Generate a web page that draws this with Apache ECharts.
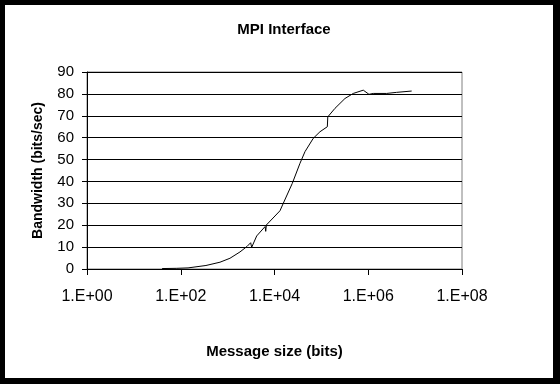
<!DOCTYPE html>
<html>
<head>
<meta charset="utf-8">
<script src="https://cdn.jsdelivr.net/npm/echarts@6/dist/echarts.min.js"></script>
<style>
html,body{margin:0;padding:0;background:#000;width:560px;height:384px;overflow:hidden;}
#c{position:absolute;left:5px;top:5px;width:548px;height:373px;background:#fff;}
</style>
</head>
<body>
<div id="c"></div>
<script>
var titleText = 'MPI Interface';
var xAxisTitle = 'Message size (bits)';
var yAxisTitle = 'Bandwidth (bits/sec)';
var messageSize = [40, 80, 143, 345, 687, 1122, 1836, 2590, 3100, 3260, 4170, 6300, 6500, 6700, 13090, 15390, 23940, 34990, 44700, 67100, 93300, 134000, 137000, 195000, 318700, 478800, 783000, 1036000, 1279000, 2471000, 4038000, 8437000];
var bandwidth   = [0.2, 0.3, 0.5, 1.6, 3.1, 4.9, 7.8, 10.3, 12.0, 9.9, 15.1, 19.4, 17.2, 20.1, 26.6, 30.0, 39.1, 48.3, 53.6, 59.7, 62.7, 65.0, 69.5, 73.4, 77.9, 80.2, 81.7, 79.8, 80.2, 80.2, 80.7, 81.3];
var yTicks = [0, 10, 20, 30, 40, 50, 60, 70, 80, 90];

var chart = echarts.init(document.getElementById('c'), null, {renderer: 'canvas'});
var font = 'Liberation Sans, Arial, sans-serif';
var data = messageSize.map(function (x, i) { return [x, bandwidth[i]]; });

function fmtExp(v) {
  var e = Math.round(Math.log10(v));
  return '1.E+' + (e < 10 ? '0' + e : e);
}

chart.setOption({
  animation: false,
  title: {
    text: titleText,
    left: 274, top: 12, textAlign: 'center',
    textStyle: {fontFamily: font, fontSize: 15, fontWeight: 'bold', color: '#000'}
  },
  grid: {left: 82, top: 67, right: 91, bottom: 109, show: true, borderColor: '#808080', borderWidth: 1, backgroundColor: 'transparent'},
  xAxis: {
    type: 'log', logBase: 100, min: 1, max: 1e8,
    name: xAxisTitle, nameLocation: 'middle', nameGap: 75,
    nameTextStyle: {fontFamily: font, fontSize: 15, fontWeight: 'bold', color: '#000'},
    axisLine: {show: true, lineStyle: {color: '#000', width: 1}},
    axisTick: {show: true, length: 6, lineStyle: {color: '#000'}},
    minorTick: {show: false},
    splitLine: {show: false},
    axisLabel: {fontFamily: font, fontSize: 16, color: '#000', margin: 20, formatter: fmtExp, showMinLabel: true, showMaxLabel: true}
  },
  yAxis: {
    type: 'value', min: yTicks[0], max: yTicks[yTicks.length - 1], interval: 10,
    name: yAxisTitle, nameLocation: 'middle', nameGap: 42,
    nameTextStyle: {fontFamily: font, fontSize: 14, fontWeight: 'bold', color: '#000'},
    axisLine: {show: true, lineStyle: {color: '#000', width: 1}},
    axisTick: {show: true, length: 5, lineStyle: {color: '#000'}},
    splitLine: {show: true, lineStyle: {color: '#000', width: 1}},
    axisLabel: {fontFamily: font, fontSize: 15, color: '#000', margin: 13}
  },
  series: [{
    type: 'line',
    data: data,
    showSymbol: false,
    symbol: 'none',
    lineStyle: {color: '#000', width: 1},
    z: 5
  }]
});
</script>
</body>
</html>
